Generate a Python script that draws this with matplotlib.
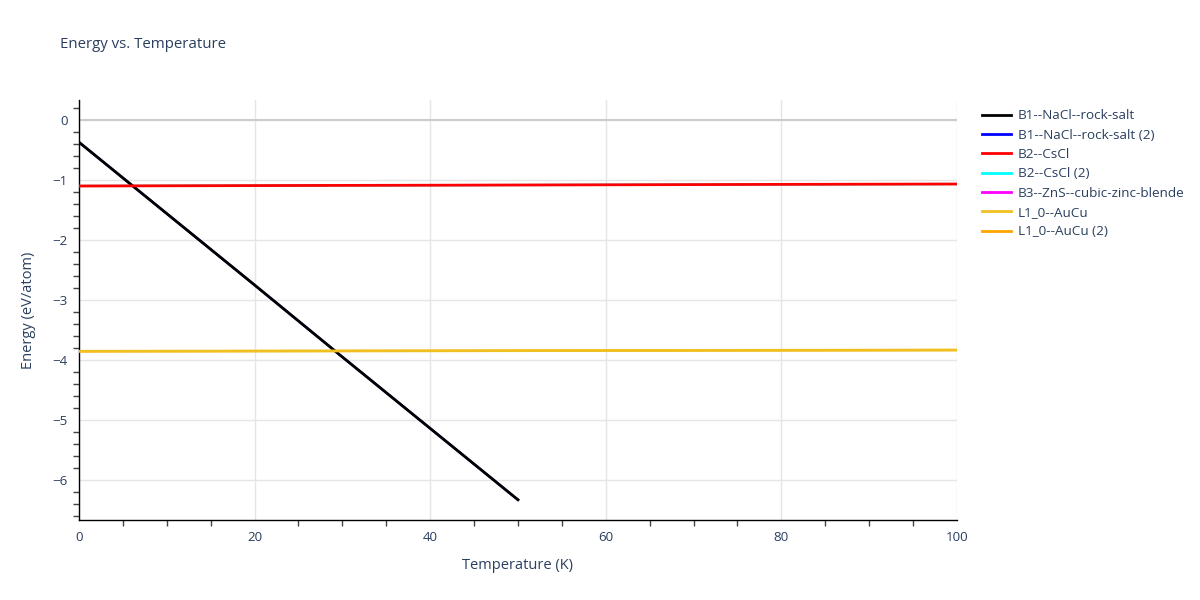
import numpy as np
import matplotlib
matplotlib.use("Agg")
import matplotlib.pyplot as plt
from matplotlib.ticker import MultipleLocator

plt.rcParams['font.family'] = ['Open Sans', 'DejaVu Sans']

# valeurs
temp_b1 = [0, 10, 20, 30, 40, 50]
energy_b1 = [-0.37, -1.56, -2.75, -3.95, -5.14, -6.33]

temp_full = [0, 20, 40, 60, 80, 100]
energy_b2 = [-1.100, -1.093, -1.087, -1.080, -1.073, -1.067]
energy_l10 = [-3.855, -3.851, -3.847, -3.842, -3.838, -3.834]

series = [
    ("B1--NaCl--rock-salt", temp_b1, energy_b1, "black"),
    ("B1--NaCl--rock-salt (2)", temp_b1, energy_b1, "blue"),
    ("B2--CsCl", temp_full, energy_b2, "red"),
    ("B2--CsCl (2)", temp_full, energy_b2, "cyan"),
    ("B3--ZnS--cubic-zinc-blende", [], [], "magenta"),
    ("L1_0--AuCu", temp_full, energy_l10, "#f0c020"),
    ("L1_0--AuCu (2)", temp_full, energy_l10, "orange"),
]

text_col = "#2a3f5f"

fig = plt.figure(figsize=(12, 6), dpi=100)
ax = fig.add_axes([0.0658, 0.1333, 0.7317, 0.7])

# les doublons sont dessinés en dessous (un peu plus fins)
handles = {}
draw_order = [1, 3, 4, 6, 0, 2, 5]
for z, i in enumerate(draw_order):
    name, x, y, c = series[i]
    h, = ax.plot(x, y, color=c, lw=2 if z >= 4 else 1.6, label=name, zorder=3 + z)
    handles[i] = h

ax.set_xlim(0, 100)
ax.set_ylim(-6.667, 0.333)

ax.xaxis.set_major_locator(MultipleLocator(20))
ax.xaxis.set_minor_locator(MultipleLocator(5))
ax.yaxis.set_major_locator(MultipleLocator(1))
ax.yaxis.set_minor_locator(MultipleLocator(0.2))

ax.grid(True, which="major", color="#e5e5e5", lw=1, zorder=0)
ax.get_xgridlines()[-1].set_visible(False)
ax.axhline(0, color="#cccccc", lw=1.5, zorder=1)
ax.set_axisbelow(True)

for s in ["top", "right"]:
    ax.spines[s].set_visible(False)
for s in ["left", "bottom"]:
    ax.spines[s].set_color("black")
    ax.spines[s].set_linewidth(1)

ax.tick_params(which="major", length=0, labelsize=9.6, labelcolor=text_col, pad=8)
ax.tick_params(which="minor", length=4, width=1, color="#444444", direction="out")

ax.set_xlabel("Temperature (K)", fontsize=10.5, color=text_col, labelpad=10)
ax.set_ylabel("Energy (eV/atom)", fontsize=10.5, color=text_col, labelpad=12)

fig.text(0.05, 0.925, "Energy vs. Temperature", fontsize=10.8, color=text_col,
         va="center", ha="left")

legend_handles = [plt.Line2D([0], [0], color=s[3], lw=2) for s in series]
leg = fig.legend(legend_handles, [s[0] for s in series],
                 loc="upper left", bbox_to_anchor=(0.808, 0.838),
                 frameon=False, fontsize=9.7, handlelength=2.2,
                 labelspacing=0.47, handletextpad=0.5)
for t in leg.get_texts():
    t.set_color(text_col)

fig.savefig("out.png", dpi=100)
